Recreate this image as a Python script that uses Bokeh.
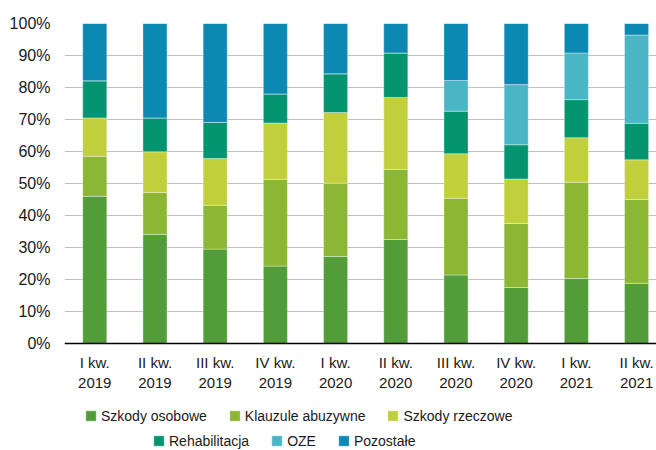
from bokeh.plotting import figure
from bokeh.models import Range1d, FixedTicker, Legend, LegendItem, LinearAxis
from bokeh.embed import file_html
from bokeh.resources import INLINE

quarters = ["I kw.", "II kw.", "III kw.", "IV kw.", "I kw.", "II kw.", "III kw.",
            "IV kw.", "I kw.", "II kw."]
years = ["2019", "2019", "2019", "2019", "2020", "2020", "2020", "2020", "2021", "2021"]
szkody_osobowe = [46.0, 34.1, 29.5, 24.2, 27.2, 32.5, 21.4, 17.5, 20.3, 18.8]
klauzule_abuzywne = [12.5, 13.1, 13.7, 27.1, 22.9, 21.9, 24.0, 20.0, 30.1, 26.2]
szkody_rzeczowe = [12.0, 12.7, 14.6, 17.6, 22.1, 22.5, 13.9, 13.9, 13.9, 12.4]
rehabilitacja = [11.6, 10.6, 11.3, 9.1, 12.1, 13.9, 13.3, 10.7, 11.9, 11.4]
oze = [0.0, 0.0, 0.0, 0.0, 0.0, 0.0, 9.6, 18.8, 14.6, 27.6]
pozostale = [17.9, 29.5, 30.9, 22.0, 15.7, 9.2, 17.8, 19.1, 9.2, 3.6]
series_names = ["Szkody osobowe", "Klauzule abuzywne", "Szkody rzeczowe",
                "Rehabilitacja", "OZE", "Pozostałe"]
colors = ["#529D3A", "#8CB734", "#C2CF3C", "#04946F", "#4AB5C5", "#0B89B3"]
y_ticks = [0, 10, 20, 30, 40, 50, 60, 70, 80, 90, 100]

FONT = "Liberation Sans"
TXT = "#1a1a1a"

xs = list(range(len(quarters)))
data = {"x": xs}
keys = ["s0", "s1", "s2", "s3", "s4", "s5"]
for k, arr in zip(keys, [szkody_osobowe, klauzule_abuzywne, szkody_rzeczowe,
                         rehabilitacja, oze, pozostale]):
    data[k] = arr

# frame spans 23..450 px; 3.2 px per percent -> space below 0 for labels/legend
p = figure(width=656, height=450, output_backend="svg", toolbar_location=None,
           x_range=Range1d(-0.503, 9.331), y_range=Range1d(-33.44, 100),
           x_axis_location=None,
           min_border_left=64, min_border_right=0, min_border_top=23,
           min_border_bottom=0)
p.outline_line_color = None
p.background_fill_color = "white"
p.border_fill_color = "white"

renderers = p.vbar_stack(keys, x="x", width=0.4, source=data, color=colors,
                         line_color="white", line_width=0.6, line_alpha=0.6)

p.xgrid.grid_line_color = None
p.ygrid.grid_line_color = "#BFBFBF"
p.ygrid.grid_line_width = 1.2
p.ygrid.ticker = FixedTicker(ticks=y_ticks)

p.yaxis.ticker = FixedTicker(ticks=y_ticks)
p.yaxis.major_label_overrides = {t: f"{t}%" for t in y_ticks}
p.yaxis.axis_line_color = None
p.yaxis.major_tick_line_color = None
p.yaxis.minor_tick_line_color = None
p.yaxis.major_label_text_font = FONT
p.yaxis.major_label_text_font_size = "16px"
p.yaxis.major_label_text_color = TXT
p.yaxis.major_label_standoff = 8

def make_xaxis(labels, standoff, line):
    ax = LinearAxis(ticker=FixedTicker(ticks=xs), fixed_location=0,
                    major_label_overrides={i: c for i, c in enumerate(labels)})
    ax.axis_line_color = "black" if line else None
    ax.axis_line_width = 1.5
    ax.major_tick_line_color = None
    ax.minor_tick_line_color = None
    ax.major_label_text_font = FONT
    ax.major_label_text_font_size = "15px"
    ax.major_label_text_color = TXT
    ax.major_label_standoff = standoff
    return ax

p.add_layout(make_xaxis(years, 29, False), "below")
p.add_layout(make_xaxis(quarters, 5, True), "below")

def make_legend(idx, loc):
    return Legend(items=[LegendItem(label=series_names[i], renderers=[renderers[i]]) for i in idx],
                  orientation="horizontal", location=loc,
                  label_text_font=FONT, label_text_font_size="14px",
                  label_text_color=TXT, glyph_width=13, glyph_height=13,
                  label_standoff=4, spacing=21, padding=0, margin=0,
                  border_line_color=None, background_fill_alpha=0,
                  label_height=17)

p.add_layout(make_legend([0, 1, 2], (20, 26)), "center")
p.add_layout(make_legend([3, 4, 5], (88, 1)), "center")

open("out.html", "w").write(file_html(p, INLINE))
